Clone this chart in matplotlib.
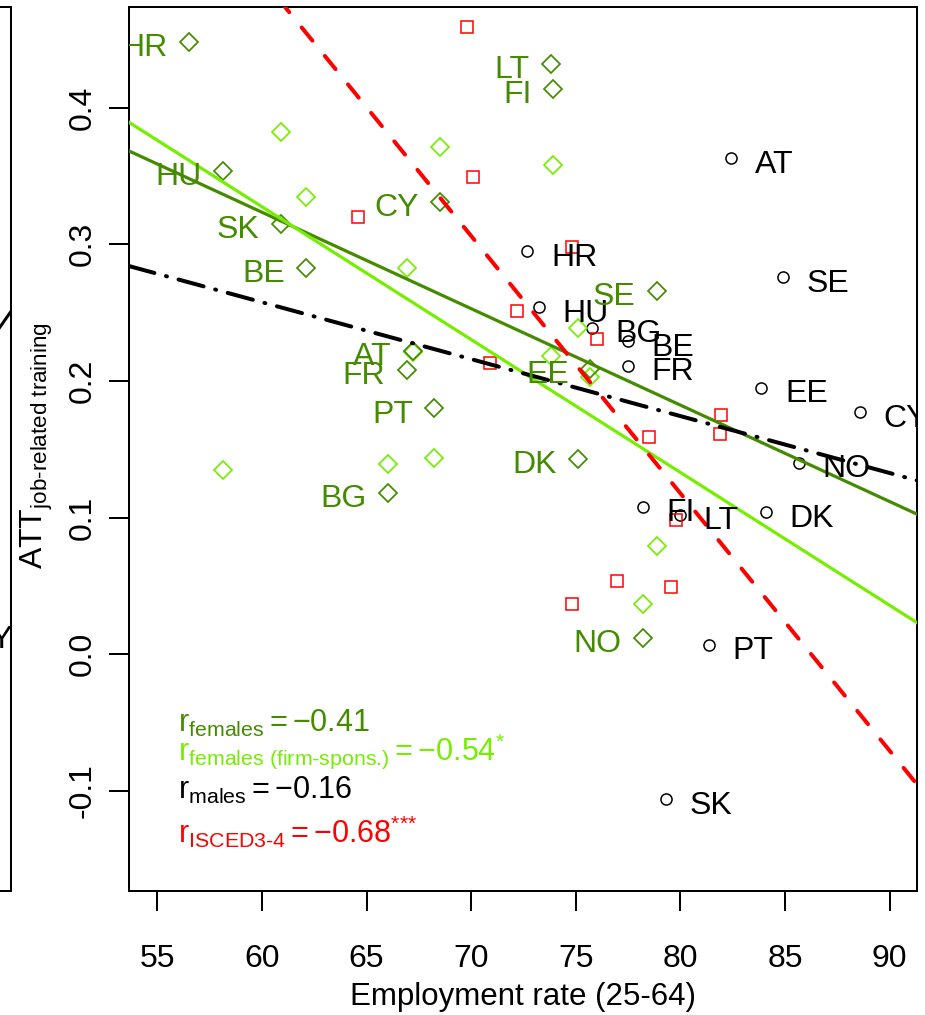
import numpy as np
import matplotlib
matplotlib.use("Agg")
import matplotlib.pyplot as plt

plt.rcParams["font.family"] = ["Liberation Sans", "DejaVu Sans"]
plt.rcParams["mathtext.fontset"] = "custom"
plt.rcParams["mathtext.rm"] = "Liberation Sans"
plt.rcParams["mathtext.it"] = "Liberation Sans:italic"
plt.rcParams["mathtext.bf"] = "Liberation Sans:bold"
plt.rcParams["mathtext.sf"] = "Liberation Sans"
plt.rcParams["mathtext.default"] = "regular"
plt.rcParams["lines.scale_dashes"] = False

# ---- data ---------------------------------------------------------------
countries = ["AT", "BE", "BG", "CY", "DK", "EE", "FI", "FR",
             "HR", "HU", "LT", "NO", "PT", "SE", "SK"]

# males: employment rate (25-64) and ATT on job-related training
male_emp = [82.41, 77.47, 75.75, 88.57, 84.08, 83.87, 78.22, 77.47,
            72.69, 73.25, 79.97, 85.67, 81.37, 84.91, 79.29]
male_att = [0.363, 0.229, 0.239, 0.177, 0.104, 0.195, 0.108, 0.211,
            0.295, 0.254, 0.102, 0.140, 0.007, 0.276, -0.106]

# females: employment rate, ATT (all) and ATT (firm-sponsored training)
female_emp = [67.20, 62.10, 66.03, 68.50, 75.11, 75.67, 73.89, 66.91,
              56.51, 58.12, 73.79, 78.19, 68.23, 78.86, 60.89]
female_att = [0.222, 0.283, 0.118, 0.331, 0.143, 0.209, 0.414, 0.208,
              0.448, 0.354, 0.432, 0.012, 0.180, 0.266, 0.315]
female_firm_att = [0.221, 0.335, 0.139, 0.371, 0.239, 0.203, 0.358, 0.283,
                   0.505, 0.135, 0.218, 0.037, 0.144, 0.079, 0.382]

# ISCED 3-4 group
isced_emp = [69.81, 70.10, 64.60, 74.80, 72.20, 76.02, 70.89, 81.92,
             81.88, 78.49, 79.78, 76.95, 79.54, 74.80, 64.20]
isced_att = [0.459, 0.349, 0.320, 0.298, 0.251, 0.231, 0.213, 0.175,
             0.161, 0.159, 0.098, 0.054, 0.049, 0.037, 0.495]

# correlation coefficients and significance stars
corr_labels = ["females", "females (firm-spons.)", "males", "ISCED3-4"]
corr_values = [-0.41, -0.54, -0.16, -0.68]
corr_stars = ["", "*", "", "***"]

# neighbouring panel (only its right edge shows)
neighbor_fit_x = [0.95, 1.0]
neighbor_fit_y = [0.591, 0.6548]

x_ticks = [55, 60, 65, 70, 75, 80, 85, 90]
y_ticks = [-0.1, 0.0, 0.1, 0.2, 0.3, 0.4]

# ---- styling -------------------------------------------------------------
DARK_GREEN = "#458B00"
LIGHT_GREEN = "#76EE00"
RED = "#FF0000"
BLACK = "#000000"
PT = 0.72  # points per pixel at 100 dpi

W, H = 925, 1015
fig = plt.figure(figsize=(W / 100, H / 100), dpi=100)

L, R, T, B = 129.3, 917.3, 7.0, 890.7
ax = fig.add_axes([L / W, 1 - B / H, (R - L) / W, (B - T) / H])
ax.set_xlim(53.66, 91.32)
ax.set_ylim(-0.173, 0.4737)

# points
ax.plot(male_emp, male_att, ls="none", marker="o", ms=8.0, mfc="none",
        mec=BLACK, mew=1.1, zorder=3)
ax.plot(female_emp, female_firm_att, ls="none", marker="D", ms=8.9, mfc="none",
        mec=LIGHT_GREEN, mew=1.25, zorder=3)
ax.plot(female_emp, female_att, ls="none", marker="D", ms=8.9, mfc="none",
        mec=DARK_GREEN, mew=1.25, zorder=3)
ax.plot(isced_emp, isced_att, ls="none", marker="s", ms=8.3, mfc="none",
        mec=RED, mew=1.1, zorder=3)

# least-squares fit lines across the full x range
xs = np.array(ax.get_xlim())
fits = [
    (female_emp, female_att, dict(color=DARK_GREEN, lw=3.2 * PT, ls="-")),
    (female_emp, female_firm_att, dict(color=LIGHT_GREEN, lw=3.2 * PT, ls="-")),
    (male_emp, male_att, dict(color=BLACK, lw=4 * PT,
                              ls=(0, (26 * PT, 12 * PT, 1 * PT, 12 * PT)),
                              dash_capstyle="round")),
    (isced_emp, isced_att, dict(color=RED, lw=4 * PT,
                                ls=(0, (17 * PT, 19.7 * PT)),
                                dash_capstyle="round")),
]
for xv, yv, style in fits:
    coef = np.polyfit(xv, yv, 1)
    ax.plot(xs, np.polyval(coef, xs), zorder=4, **style)

# country labels
LABEL_SIZE = 23
for c, x, y in zip(countries, male_emp, male_att):
    t = ax.annotate(c, (x, y), xytext=(17, -10.4), textcoords="offset points",
                    ha="left", va="baseline", fontsize=LABEL_SIZE, color=BLACK,
                    zorder=5, annotation_clip=False)
    t.set_clip_box(ax.bbox)
    t.set_clip_on(True)
for c, x, y in zip(countries, female_emp, female_att):
    t = ax.annotate(c, (x, y), xytext=(-15.2, -10.3), textcoords="offset points",
                    ha="right", va="baseline", fontsize=LABEL_SIZE, color=DARK_GREEN,
                    zorder=5, annotation_clip=False)
    t.set_clip_box(ax.bbox)
    t.set_clip_on(True)

# correlation annotations
corr_colors = [DARK_GREEN, LIGHT_GREEN, BLACK, RED]
corr_baselines = [-0.0566, -0.0773, -0.1061, -0.1383]
for name, val, star, col, yb in zip(corr_labels, corr_values, corr_stars,
                                     corr_colors, corr_baselines):
    sup = r"^{\text{%s}}" % star if star else ""
    s = r"$r_{\text{%s}} = -%.2f%s$" % (name, abs(val), sup)
    ax.text(56.0, yb, s, color=col, fontsize=22, ha="left", va="baseline", zorder=6)

# axes styling
for sp in ax.spines.values():
    sp.set_linewidth(2 * PT)
ax.set_xticks(x_ticks, [str(v) for v in x_ticks])
ax.set_yticks(y_ticks, ["%.1f" % v for v in y_ticks], rotation=90, va="center")
ax.tick_params(axis="both", direction="out", length=20 * PT, width=2 * PT,
               labelsize=23)
ax.tick_params(axis="x", pad=33 * PT)
ax.tick_params(axis="y", pad=12 * PT)

fig.text(523.3 / W, 1 - 1005 / H, "Employment rate (25-64)", ha="center",
         va="baseline", fontsize=22.5)
fig.text(37 / W, 1 - 446 / H, r"$ATT_{\text{job-related training}}$",
         rotation=90, ha="center", va="center", fontsize=23)

# edge of the neighbouring panel
axl = fig.add_axes([(10.5 - (R - L)) / W, 1 - B / H, (R - L) / W, (B - T) / H])
axl.set_xlim(0, 1)
axl.set_ylim(0, 1)
axl.set_xticks([])
axl.set_yticks([])
axl.spines["left"].set_visible(False)
for k in ("right", "top", "bottom"):
    axl.spines[k].set_linewidth(2 * PT)
axl.plot(neighbor_fit_x, neighbor_fit_y, color=BLACK, lw=3 * PT)
fig.text(13 / W, 1 - 648 / H, "CY", ha="right", va="baseline", fontsize=23)

fig.savefig("out.png", dpi=100)
